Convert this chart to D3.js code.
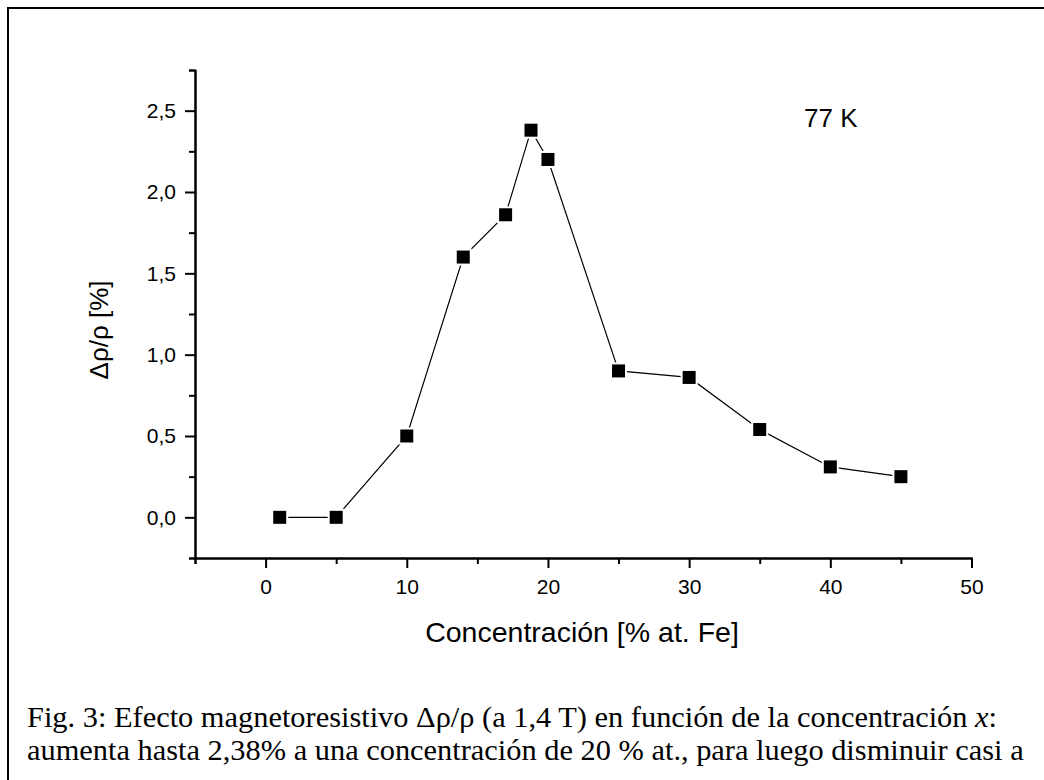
<!DOCTYPE html>
<html lang="es">
<head>
<meta charset="UTF-8">
<title>Efecto magnetoresistivo</title>
<script src="https://d3js.org/d3.v7.min.js"></script>
<style>
	body{margin:0;background:#fff}
	svg{display:block}
	.tick text{font-family:"Liberation Sans",Arial,sans-serif;font-size:21px;fill:#000}
	.axis path,.axis line{stroke:#000;stroke-width:2}
</style>
</head>
<body>
<svg id="chart" width="1044" height="780"></svg>
<script>
// concentracion [% at. Fe] y efecto magnetoresistivo [%]
var conc = [1, 5, 10, 14, 17, 18.8, 20, 25, 30, 35, 40, 45];
var mr = [0, 0, 0.5, 1.6, 1.86, 2.38, 2.2, 0.9, 0.86, 0.54, 0.31, 0.25];

var xMajor = [0, 10, 20, 30, 40, 50];
var xMinor = [-5, 5, 15, 25, 35, 45];
var yMajor = [0, 0.5, 1, 1.5, 2, 2.5];
var yMinor = [-0.25, 0.25, 0.75, 1.25, 1.75, 2.25, 2.75];

var caption = [
	"Fig. 3: Efecto magnetoresistivo \u0394\u03c1/\u03c1 (a 1,4 T) en funci\u00f3n de la concentraci\u00f3n ",
	"aumenta hasta 2,38% a una concentraci\u00f3n de 20 % at., para luego disminuir casi a"
];

var svg = d3.select("#chart");

// marco
svg.append("rect").attr("x", 8).attr("y", 8).attr("width", 1100).attr("height", 900)
	.attr("fill", "none").attr("stroke", "#000").attr("stroke-width", 2);

var x = d3.scaleLinear().domain([-5, 50]).range([195, 971.5]);
var y = d3.scaleLinear().domain([-0.25, 2.75]).range([558, 70]);

var comma = d3.formatLocale({decimal: ",", thousands: ".", grouping: [3], currency: ["", ""]});
var fy = comma.format(".1f");

// ejes
svg.append("g").attr("class", "axis").attr("transform", "translate(0,558)")
	.call(d3.axisBottom(x).tickValues(xMinor).tickSize(6).tickFormat(""));
svg.append("g").attr("class", "axis").attr("transform", "translate(0,558)")
	.call(d3.axisBottom(x).tickValues(xMajor).tickSize(10).tickPadding(11).tickSizeOuter(0));
svg.append("g").attr("class", "axis").attr("transform", "translate(195,0)")
	.call(d3.axisLeft(y).tickValues(yMinor).tickSize(6).tickFormat(""));
svg.append("g").attr("class", "axis").attr("transform", "translate(195,0)")
	.call(d3.axisLeft(y).tickValues(yMajor).tickSize(10).tickPadding(9).tickFormat(fy).tickSizeOuter(0));

// titulos
svg.append("text").attr("x", 582).attr("y", 642).attr("text-anchor", "middle")
	.style("font-family", "'Liberation Sans',Arial,sans-serif").style("font-size", "28.5px")
	.text("Concentración [% at. Fe]");
svg.append("text").attr("transform", "translate(108,330) rotate(-90)").attr("text-anchor", "middle")
	.style("font-family", "'Liberation Sans',Arial,sans-serif").style("font-size", "26px")
	.text("\u0394\u03c1/\u03c1 [%]");
svg.append("text").attr("x", 804).attr("y", 127)
	.style("font-family", "'Liberation Sans',Arial,sans-serif").style("font-size", "26px")
	.text("77 K");

// datos
var pts = conc.map(function (c, i) { return [c, mr[i]]; });
var line = d3.line().x(function (d) { return x(d[0]); }).y(function (d) { return y(d[1]); });
svg.append("path").datum(pts).attr("d", line)
	.attr("fill", "none").attr("stroke", "#000").attr("stroke-width", 1.2);

svg.selectAll(".halo").data(pts).enter().append("rect")
	.attr("x", function (d) { return x(d[0]) - 8.5; }).attr("y", function (d) { return y(d[1]) - 8.5; })
	.attr("width", 17).attr("height", 17).attr("fill", "#fff");
svg.selectAll(".pt").data(pts).enter().append("rect")
	.attr("x", function (d) { return x(d[0]) - 6.5; }).attr("y", function (d) { return y(d[1]) - 6.5; })
	.attr("width", 13).attr("height", 13).attr("fill", "#000");

// leyenda de la figura
var cap = svg.append("g").style("font-family", "'Liberation Serif','Times New Roman',serif").style("font-size", "30.4px");
var t1 = cap.append("text").attr("x", 27).attr("y", 727);
t1.append("tspan").text(caption[0]);
t1.append("tspan").style("font-style", "italic").text("x");
t1.append("tspan").text(":");
cap.append("text").attr("x", 27).attr("y", 760).text(caption[1]);
</script>
</body>
</html>
